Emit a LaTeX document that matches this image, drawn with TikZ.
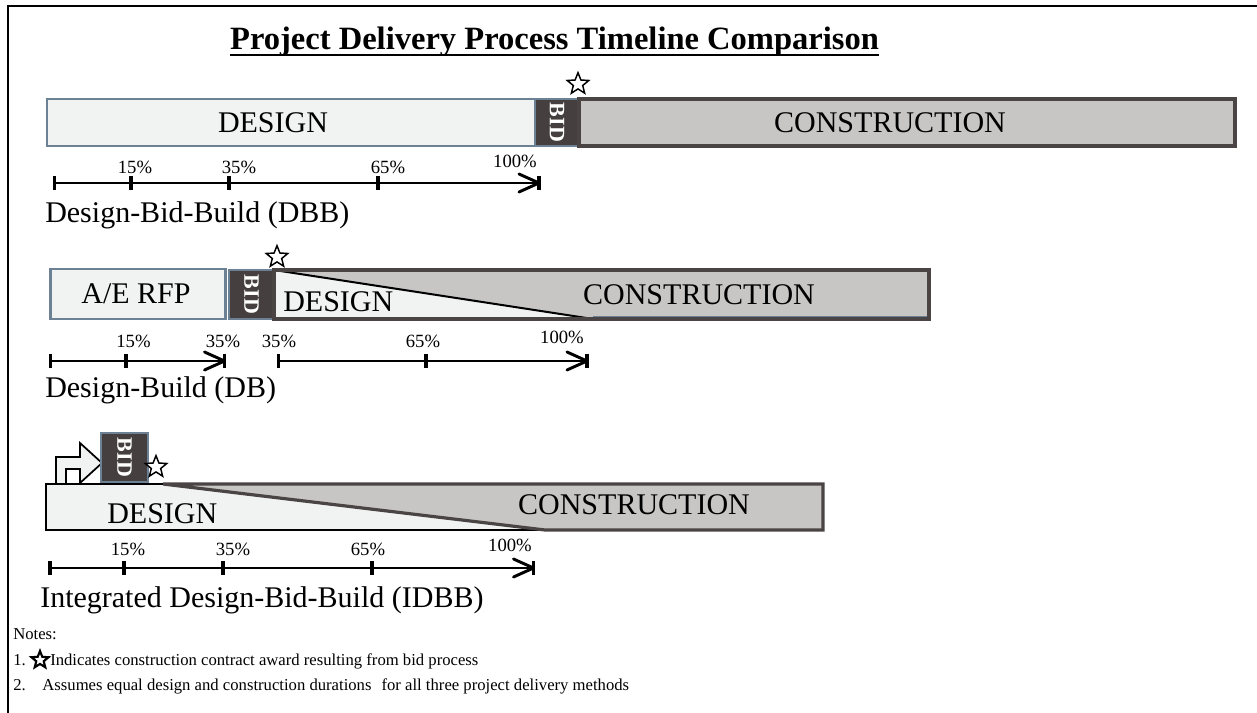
\documentclass[tikz,border=0pt]{standalone}
\usepackage{fontspec}
\setmainfont{Liberation Serif}
\usetikzlibrary{shapes.geometric}

\definecolor{paleFill}{HTML}{F1F3F3}
\definecolor{steelLine}{HTML}{6C8294}
\definecolor{bidFill}{HTML}{463F40}
\definecolor{buildFill}{HTML}{C8C5C5}
\definecolor{buildLine}{HTML}{4A4445}

\begin{document}
\begin{tikzpicture}[x=0.75pt,y=-0.75pt,
  designbox/.style={fill=paleFill,draw=steelLine,line width=2.2pt},
  bidbox/.style={fill=bidFill,draw=steelLine,line width=2.2pt},
  buildbox/.style={fill=buildFill,draw=buildLine,line width=2.4pt},
  boxtext/.style={font=\fontsize{22.5}{26}\selectfont,inner sep=0pt},
  bidtext/.style={font=\fontsize{16.5}{18}\selectfont\bfseries,text=white,rotate=-90,inner sep=0pt},
  pct/.style={font=\fontsize{14}{16}\selectfont,inner sep=0pt},
  rowlabel/.style={font=\fontsize{22.5}{26}\selectfont,anchor=base west,inner sep=0pt},
  award/.style={star,star points=5,star point ratio=2.3,draw=black,fill=white,line width=1.1pt,minimum size=17pt,inner sep=0pt},
  axisline/.style={line width=2.2pt},
  tickmark/.style={line width=2.6pt},
  headline/.style={line width=2.2pt,line join=round,line cap=round},
  note/.style={font=\fontsize{12.5}{15}\selectfont,anchor=base west,inner sep=0pt},
]
\useasboundingbox (0,0) rectangle (1257,713);

% page frame
\draw[line width=1.5pt] (8,713) -- (8,6) -- (1257,6);

% title
\node[font=\fontsize{24.4}{28}\selectfont\bfseries,anchor=base,inner sep=0pt] (title) at (554.5,50)
  {Project Delivery Process Timeline Comparison};
\draw[line width=1.5pt] ([yshift=-3.8pt]title.base west) -- ([yshift=-3.8pt]title.base east);

%% ---------- Design-Bid-Build ----------
\draw[designbox] (47,99) rectangle (535,146);
\draw[bidbox] (535,99) rectangle (579,146);
\draw[buildbox] (579,99) rectangle (1235,146);
\node[boxtext] (dbbdesign) at (273,123) {DESIGN};
\node[bidtext] (dbbbid) at (557,122.5) {BID};
\node[boxtext] (dbbbuild) at (890,123) {CONSTRUCTION};
\node[award] (dbbstar) at (578,84) {};

\coordinate (dbbs) at (54.5,183);
\coordinate (dbbe) at (539,183);
\draw[axisline] (dbbs) -- (dbbe);
\foreach \x in {54.5,131,229,378,539} \draw[tickmark] (\x,176) -- (\x,190);
\draw[headline] ([shift={(-20,-9)}]dbbe) -- (dbbe) -- ([shift={(-20,9)}]dbbe);
\node[pct] (dbb15) at (135,167) {15\%};
\node[pct] (dbb35) at (239,167) {35\%};
\node[pct] (dbb65) at (388,167) {65\%};
\node[pct] (dbb100) at (515,161) {100\%};
\node[rowlabel] (dbblabel) at (45,223) {Design-Bid-Build (DBB)};

%% ---------- Design-Build ----------
\draw[designbox] (50.5,269) rectangle (225.7,319);
\draw[bidbox] (229,270) rectangle (274,319);
\fill[paleFill] (274,270) rectangle (929,319);
\fill[buildFill] (274,270) -- (929,270) -- (929,319) -- (593,319) -- cycle;
\draw[steelLine,line width=1pt] (593,316.5) -- (927,316.5);
\draw[black,line width=1.5pt] (274,270) -- (593,319);
\draw[buildLine,line width=2.4pt] (274,270) rectangle (929,319);
\node[boxtext] (dbrfp) at (136,294) {A/E RFP};
\node[bidtext] (dbbid) at (251.5,294.5) {BID};
\node[boxtext,anchor=base west] (dbdesign) at (283,311) {DESIGN};
\node[boxtext] (dbbuild) at (699,295) {CONSTRUCTION};
\node[award] (dbstar) at (277,257) {};

\coordinate (dbas) at (50.5,361);
\coordinate (dbae) at (224.5,361);
\draw[axisline] (dbas) -- (dbae);
\foreach \x in {50.5,126,224.5} \draw[tickmark] (\x,354) -- (\x,368);
\draw[headline] ([shift={(-20,-9)}]dbae) -- (dbae) -- ([shift={(-20,9)}]dbae);
\coordinate (dbbs2) at (278.3,361);
\coordinate (dbbe2) at (587,361);
\draw[axisline] (dbbs2) -- (dbbe2);
\foreach \x in {278.3,426,587} \draw[tickmark] (\x,354) -- (\x,368);
\draw[headline] ([shift={(-20,-9)}]dbbe2) -- (dbbe2) -- ([shift={(-20,9)}]dbbe2);
\node[pct] (db15) at (133.5,341) {15\%};
\node[pct] (db35a) at (223,341) {35\%};
\node[pct] (db35b) at (279,341) {35\%};
\node[pct] (db65) at (423,341) {65\%};
\node[pct] (db100) at (562,337) {100\%};
\node[rowlabel] (dblabel) at (45,397) {Design-Build (DB)};

%% ---------- Integrated Design-Bid-Build ----------
\draw[fill=paleFill,draw=black,line width=1.3pt,line join=miter]
  (56,485) -- (56,457) -- (80,457) -- (80,443) -- (102,463) -- (80,483)
  -- (80,469) -- (66,469) -- (66,485);
\draw[bidbox] (101,433) rectangle (148,482);
\fill[paleFill] (46,484) rectangle (823,530);
\fill[buildFill] (163,484) -- (823,484) -- (823,530) -- (545,530) -- cycle;
\draw[black,line width=1.3pt] (163,484) -- (46,484) -- (46,530) -- (545,530);
\draw[buildLine,line width=2.4pt,line join=miter] (545,530) -- (823,530) -- (823,484) -- (163,484) -- (545,530);
\node[bidtext] (idbbbid) at (124.5,457.5) {BID};
\node[award] (idbbstar) at (156,467) {};
\node[boxtext,anchor=base west] (idbbdesign) at (107,523) {DESIGN};
\node[boxtext] (idbbbuild) at (634,505) {CONSTRUCTION};

\coordinate (idbbs) at (50,568);
\coordinate (idbbe) at (533.5,568);
\draw[axisline] (idbbs) -- (idbbe);
\foreach \x in {50,124,223,372,533.5} \draw[tickmark] (\x,561) -- (\x,575);
\draw[headline] ([shift={(-20,-9)}]idbbe) -- (idbbe) -- ([shift={(-20,9)}]idbbe);
\node[pct] (idbb15) at (128,549) {15\%};
\node[pct] (idbb35) at (233,549) {35\%};
\node[pct] (idbb65) at (368,549) {65\%};
\node[pct] (idbb100) at (510,545) {100\%};
\node[rowlabel] (idbblabel) at (40,607) {Integrated Design-Bid-Build (IDBB)};

%% ---------- notes ----------
\node[note] (notes) at (13,639) {Notes:};
\node[note] (note1n) at (13,665) {1.};
\node[award,line width=1.6pt,minimum size=13.5pt] (notestar) at (40,660) {};
\node[note] (note1) at (50,665) {Indicates construction contract award resulting from bid process};
\node[note] (note2) at (13,690) {2.\hspace{1em}Assumes equal design and construction durations\hspace{0.6em}for all three project delivery methods};
\end{tikzpicture}
\end{document}
